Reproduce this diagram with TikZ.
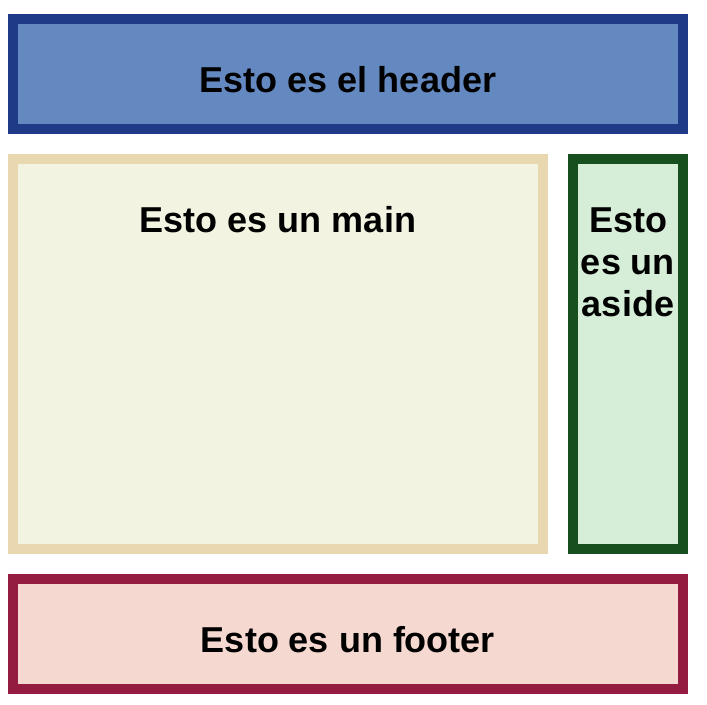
\documentclass[tikz,border=0pt]{standalone}
\usepackage{fontspec}
\setmainfont{Liberation Sans}
\definecolor{hdrborder}{HTML}{1F3A86}
\definecolor{hdrfill}{HTML}{6488C0}
\definecolor{mainborder}{HTML}{E8D7AF}
\definecolor{mainfill}{HTML}{F3F3E2}
\definecolor{asideborder}{HTML}{17501E}
\definecolor{asidefill}{HTML}{D6EED8}
\definecolor{ftrborder}{HTML}{931C40}
\definecolor{ftrfill}{HTML}{F5D8D0}
\tikzset{
  panel/.style={line width=7.5pt},
  lbl/.style={font=\fontsize{27}{31}\selectfont\bfseries, anchor=base, inner sep=0pt}
}
\begin{document}
\begin{tikzpicture}[x=0.75pt,y=-0.75pt]
\useasboundingbox (0,0) rectangle (707,704);
% header
\draw[panel, draw=hdrborder, fill=hdrfill] (13,19) rectangle (683,129);
\node[lbl] (header) at (348,92) {Esto es el header};
% main
\draw[panel, draw=mainborder, fill=mainfill] (13,159) rectangle (543,549);
\node[lbl] (main) at (278,232) {Esto es un main};
% aside
\draw[panel, draw=asideborder, fill=asidefill] (573,159) rectangle (683,549);
\node[lbl] (aside1) at (628,232) {Esto};
\node[lbl] (aside2) at (628,274) {es un};
\node[lbl] (aside3) at (628,316) {aside};
% footer
\draw[panel, draw=ftrborder, fill=ftrfill] (13,579) rectangle (683,689);
\node[lbl] (footer) at (348,652) {Esto es un footer};
\end{tikzpicture}
\end{document}
